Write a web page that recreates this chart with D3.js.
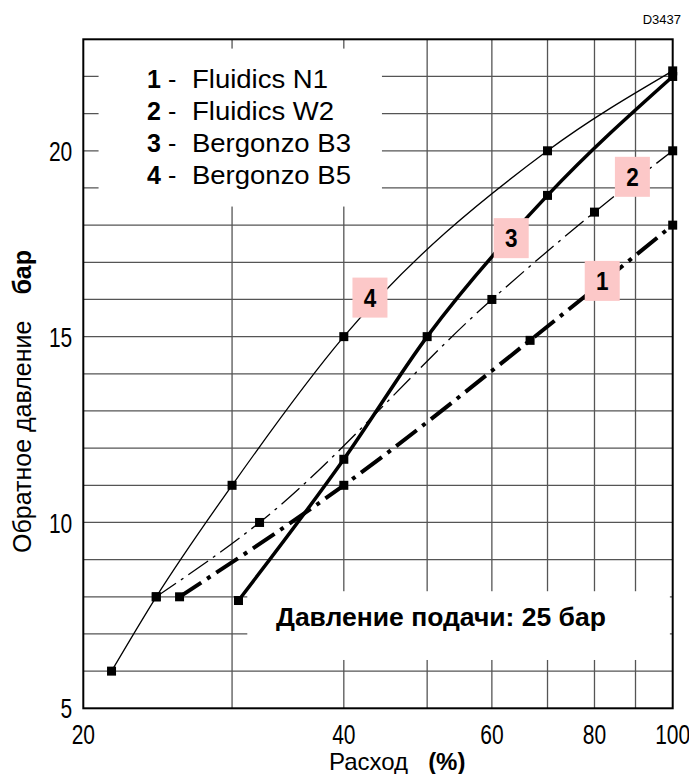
<!DOCTYPE html>
<html>
<head>
<meta charset="utf-8">
<script src="https://cdn.jsdelivr.net/npm/d3@7"></script>
<style>
  body { margin: 0; background: #fff; }
  text { font-family: "Liberation Sans", Arial, sans-serif; fill: #000; }
  .tick-label { font-size: 28px; }
</style>
</head>
<body>
<script>
// Data (x = Расход %, y = Обратное давление, бар)
var seriesNames = ["Fluidics N1", "Fluidics W2", "Bergonzo B3", "Bergonzo B5"];
var seriesIds = ["1", "2", "3", "4"];

var n1X = [26, 40, 66.7, 100];
var n1Y = [8, 11, 14.9, 18];

var w2X = [24.4, 32.2, 60, 80, 100];
var w2Y = [8, 10, 16, 18.35, 20];

var b3X = [30.5, 40, 50, 70, 100];
var b3Y = [7.9, 11.7, 15, 18.8, 22];

var b5X = [21.6, 24.4, 30, 40, 70, 100];
var b5Y = [6, 8, 11, 15, 20, 22.15];

// where the pink number tags sit (data units)
var tagX = [81.8, 89.2, 63.3, 42.9];
var tagY = [16.5, 19.3, 17.65, 16.05];

var xTickLabels = [20, 40, 60, 80, 100];
var xGridValues = [20, 30, 40, 50, 60, 70, 80, 90, 100];
var yTickLabels = [5, 10, 15, 20];
var yGridValues = d3.range(6, 23);

var note = "Давление подачи: 25 бар";

// Set margins and scales
var margin = { top: 39.3, left: 83.3 },
    width = 589.4,
    height = 669;

// the printed x axis is only roughly logarithmic, so each step
// gets its own piece (fractions measured on the grid of the picture)
var xFrac = [0, 0.2524, 0.442, 0.5834, 0.6932, 0.7876, 0.8673, 0.9369, 1];
var xScale = d3.scaleLog().domain(xGridValues).range(xFrac.map(f => f * width));
var yScale = d3.scaleLinear().domain([5, 23]).range([height, 0]);

var svg = d3.select("body").append("svg")
    .attr("width", 689)
    .attr("height", 774);

svg.append("text")
    .attr("x", 681).attr("y", 24)
    .attr("text-anchor", "end")
    .attr("font-size", "13px")
    .text("D3437");

var g = svg.append("g")
    .attr("transform", "translate(" + margin.left + "," + margin.top + ")");

// grid
g.append("g")
    .selectAll("line")
    .data(xGridValues.slice(1, -1))
    .enter().append("line")
    .attr("x1", d => xScale(d)).attr("x2", d => xScale(d))
    .attr("y1", 0).attr("y2", height)
    .attr("stroke", "#555").attr("stroke-width", 1.3);

g.append("g")
    .selectAll("line")
    .data(yGridValues)
    .enter().append("line")
    .attr("x1", 0).attr("x2", width)
    .attr("y1", d => yScale(d)).attr("y2", d => yScale(d))
    .attr("stroke", "#555").attr("stroke-width", 1.3);

// white boxes that cover the grid (legend + supply pressure note)
g.append("rect")
    .attr("x", xScale(20.85)).attr("y", yScale(22.75))
    .attr("width", xScale(44.3) - xScale(20.85))
    .attr("height", yScale(18.5) - yScale(22.75))
    .attr("fill", "#fff");

g.append("rect")
    .attr("x", xScale(31.2)).attr("y", yScale(8.15))
    .attr("width", xScale(99.2) - xScale(31.2))
    .attr("height", yScale(6.3) - yScale(8.15))
    .attr("fill", "#fff");

// frame
g.append("rect")
    .attr("width", width).attr("height", height)
    .attr("fill", "none").attr("stroke", "#000").attr("stroke-width", 2);

// axis tick labels (narrow digits, squeezed horizontally)
g.selectAll(".xl")
    .data(xTickLabels)
    .enter().append("text")
    .attr("class", "tick-label")
    .attr("transform", d => "translate(" + xScale(d) + "," + (height + 36) + ") scale(0.75,1)")
    .attr("text-anchor", "middle")
    .text(d => d);

g.selectAll(".yl")
    .data(yTickLabels)
    .enter().append("text")
    .attr("class", "tick-label")
    .attr("transform", d => "translate(-11," + yScale(d) + ") scale(0.75,1)")
    .attr("dy", "0.36em")
    .attr("text-anchor", "end")
    .text(d => d);

// lines
var line = d3.line()
    .curve(d3.curveMonotoneX)
    .x(d => xScale(d[0]))
    .y(d => yScale(d[1]));

var series = [
    { xs: n1X, ys: n1Y, w: 4, dash: "26,7,4,7" },
    { xs: w2X, ys: w2Y, w: 1.3, dash: "24,6,3,6" },
    { xs: b3X, ys: b3Y, w: 3.5, dash: null },
    { xs: b5X, ys: b5Y, w: 1.3, dash: null }
];
series.forEach(function (s) {
    s.pts = s.xs.map((x, i) => [x, s.ys[i]]);
});

g.selectAll(".series")
    .data(series)
    .enter().append("path")
    .attr("fill", "none")
    .attr("stroke", "#000")
    .attr("stroke-width", d => d.w)
    .attr("stroke-dasharray", d => d.dash)
    .attr("d", d => line(d.pts));

// square markers
series.forEach(function (s) {
    g.selectAll(null)
        .data(s.pts)
        .enter().append("rect")
        .attr("x", d => xScale(d[0]) - 4.5)
        .attr("y", d => yScale(d[1]) - 4.5)
        .attr("width", 9).attr("height", 9)
        .attr("fill", "#000");
});

// pink number tags
var tags = g.selectAll(".tag")
    .data(seriesIds)
    .enter().append("g")
    .attr("transform", (d, i) => "translate(" + xScale(tagX[i]) + "," + yScale(tagY[i]) + ")");
tags.append("rect")
    .attr("x", -17.5).attr("y", -20)
    .attr("width", 35).attr("height", 40)
    .attr("fill", "#fcc8c8");
tags.append("text")
    .attr("text-anchor", "middle")
    .attr("dy", "0.36em")
    .attr("font-size", "25px")
    .attr("font-weight", "bold")
    .attr("transform", "scale(0.9,1)")
    .text(d => d);

// legend
var leg = svg.append("g");
seriesIds.forEach(function (id, i) {
    var y = 88.3 + i * 31.9;
    leg.append("text").attr("x", 147).attr("y", y)
        .attr("font-size", "25px").attr("font-weight", "bold").text(id);
    leg.append("text").attr("x", 168).attr("y", y)
        .attr("font-size", "25px").text("-");
    leg.append("text")
        .attr("transform", "translate(192," + y + ") scale(1.1,1)")
        .attr("font-size", "25px").text(seriesNames[i]);
});

// supply pressure note
svg.append("text")
    .attr("x", 276).attr("y", 626)
    .attr("font-size", "26.5px")
    .attr("font-weight", "bold")
    .text(note);

// axis titles
var xt = svg.append("text")
    .attr("x", 329).attr("y", 770)
    .attr("font-size", "24px");
xt.append("tspan").text("Расход");
xt.append("tspan").attr("dx", 20).attr("font-weight", "bold").text("(%)");

var yt = svg.append("text")
    .attr("transform", "translate(31,553) rotate(-90)")
    .attr("font-size", "25px");
yt.append("tspan").text("Обратное давление");
yt.append("tspan").attr("dx", 26).attr("font-weight", "bold").text("бар");
</script>
</body>
</html>
